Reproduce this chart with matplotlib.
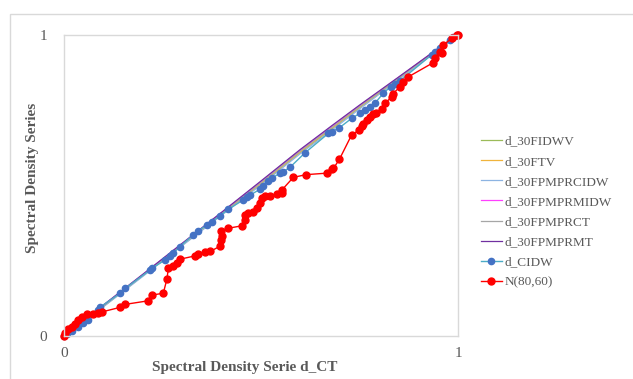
import matplotlib.pyplot as plt
from matplotlib.patches import Rectangle

plt.rcParams['font.family'] = 'Liberation Serif'

# --- data (x, y in 0..1) ---
x_thin = [0, 0.05, 0.1, 0.2, 0.3, 0.4, 0.5, 0.6, 0.68, 0.75, 0.85, 0.95, 1.0]
y_fidwv = [0, 0.050, 0.098, 0.200, 0.302, 0.404, 0.505, 0.610, 0.688, 0.758, 0.855, 0.952, 1]
y_ftv = [0, 0.050, 0.100, 0.201, 0.303, 0.405, 0.507, 0.612, 0.690, 0.760, 0.857, 0.953, 1]
y_fpmprcidw = [0, 0.049, 0.097, 0.198, 0.300, 0.401, 0.502, 0.606, 0.684, 0.754, 0.852, 0.950, 1]
y_fpmprmidw = [0, 0.051, 0.102, 0.204, 0.307, 0.410, 0.513, 0.618, 0.697, 0.765, 0.860, 0.955, 1]
y_fpmprct = [0, 0.050, 0.100, 0.202, 0.305, 0.407, 0.510, 0.615, 0.693, 0.762, 0.858, 0.954, 1]
y_fpmprmt = [0, 0.051, 0.103, 0.205, 0.308, 0.411, 0.515, 0.620, 0.699, 0.767, 0.861, 0.956, 1]

x_cidw = [0, 0.007, 0.020, 0.036, 0.048, 0.061, 0.086, 0.091, 0.142, 0.155, 0.218, 0.223,
          0.256, 0.269, 0.277, 0.294, 0.328, 0.341, 0.362, 0.375, 0.396, 0.417, 0.455,
          0.464, 0.472, 0.497, 0.506, 0.519, 0.527, 0.548, 0.557, 0.574, 0.612, 0.671,
          0.679, 0.699, 0.730, 0.751, 0.764, 0.777, 0.789, 0.810, 0.829, 0.840, 0.853,
          0.933, 0.942, 0.954, 0.980, 0.987, 1.0]
y_cidw = [0, 0.007, 0.017, 0.030, 0.043, 0.053, 0.086, 0.095, 0.142, 0.158, 0.219, 0.225,
          0.252, 0.266, 0.275, 0.297, 0.336, 0.349, 0.369, 0.380, 0.400, 0.421, 0.452,
          0.461, 0.468, 0.487, 0.498, 0.516, 0.524, 0.541, 0.546, 0.561, 0.609, 0.673,
          0.679, 0.692, 0.723, 0.740, 0.751, 0.762, 0.773, 0.806, 0.828, 0.837, 0.848,
          0.934, 0.945, 0.956, 0.983, 0.992, 1.0]

x_n = [0, 0.0025, 0.011, 0.020, 0.028, 0.036, 0.045, 0.058, 0.074, 0.087, 0.096, 0.142,
       0.155, 0.214, 0.223, 0.252, 0.261, 0.265, 0.277, 0.286, 0.294, 0.332, 0.341, 0.358,
       0.371, 0.397, 0.399, 0.400, 0.399, 0.417, 0.451, 0.459, 0.459, 0.468, 0.479, 0.489,
       0.497, 0.502, 0.510, 0.523, 0.540, 0.553, 0.553, 0.582, 0.614, 0.667, 0.679, 0.684,
       0.699, 0.730, 0.749, 0.756, 0.760, 0.768, 0.777, 0.785, 0.792, 0.806, 0.815, 0.832,
       0.834, 0.853, 0.861, 0.874, 0.937, 0.942, 0.954, 0.959, 0.963, 0.984, 0.997, 1.0]
y_n = [0, 0.009, 0.022, 0.031, 0.040, 0.053, 0.064, 0.073, 0.073, 0.077, 0.080, 0.095,
       0.105, 0.117, 0.136, 0.142, 0.188, 0.225, 0.233, 0.242, 0.255, 0.266, 0.272, 0.280,
       0.281, 0.299, 0.319, 0.332, 0.350, 0.358, 0.366, 0.385, 0.402, 0.410, 0.413, 0.424,
       0.441, 0.457, 0.465, 0.466, 0.472, 0.476, 0.485, 0.527, 0.536, 0.541, 0.554, 0.557,
       0.587, 0.668, 0.684, 0.698, 0.704, 0.718, 0.729, 0.738, 0.742, 0.753, 0.773, 0.795,
       0.804, 0.828, 0.845, 0.861, 0.908, 0.923, 0.945, 0.939, 0.967, 0.989, 1.0, 1.0]

thin_series = [
    ('d_30FIDWV', y_fidwv, '#9bbb59'),
    ('d_30FTV', y_ftv, '#f0b43c'),
    ('d_30FPMPRCIDW', y_fpmprcidw, '#8db4e2'),
    ('d_30FPMPRMIDW', y_fpmprmidw, '#ff40ff'),
    ('d_30FPMPRCT', y_fpmprct, '#a6a6a6'),
    ('d_30FPMPRMT', y_fpmprmt, '#7030a0'),
]

fig = plt.figure(figsize=(6.33, 3.79), dpi=100)
# outer chart border
fig.patches.append(Rectangle((9.5 / 633, -0.1), 1.0, 0.1 + (379 - 13.5) / 379,
                             transform=fig.transFigure, fill=False,
                             edgecolor='#d9d9d9', lw=1.0))

ax = fig.add_axes([64 / 633, 1 - 336 / 379, 394 / 633, 301 / 379])
for name, ys, col in thin_series:
    ax.plot(x_thin, ys, '-', color=col, lw=0.9, label=name)
ax.plot(x_cidw, y_cidw, '-o', color='#4bacc6', lw=1.0, ms=4.5,
        mfc='#4472c4', mec='#4472c4', label='d_CIDW')
ax.plot(x_n, y_n, '-o', color='#ff0000', lw=1.0, ms=5,
        mfc='#ff0000', mec='#ff0000', label='N(80,60)')

ax.set_xlim(0, 1)
ax.set_ylim(0, 1)
ax.set_xticks([0, 1])
ax.set_yticks([0, 1])
ax.tick_params(length=0, labelsize=11, labelcolor='#595959')
ax.tick_params(axis='y', pad=12)
ax.tick_params(axis='x', pad=8)
for s in ax.spines.values():
    s.set_color('#d9d9d9')
    s.set_linewidth(1.0)
for ln in ax.lines:
    ln.set_clip_on(False)

fig.text(33 / 633, 1 - 178 / 379, 'Spectral Density Series', rotation=90,
         ha='center', va='center', fontsize=11, fontweight='bold', color='#595959')
fig.text(245 / 633, 1 - 367 / 379, 'Spectral Density Serie d_CT',
         ha='center', va='center', fontsize=11, fontweight='bold', color='#595959')

fig.legend(loc='center left', bbox_to_anchor=(469 / 633, 1 - 212 / 379),
           frameon=False, fontsize=9.5, handlelength=1.6, handletextpad=0.2,
           labelspacing=0.6, labelcolor='#595959')

plt.savefig('out.png', dpi=100)
